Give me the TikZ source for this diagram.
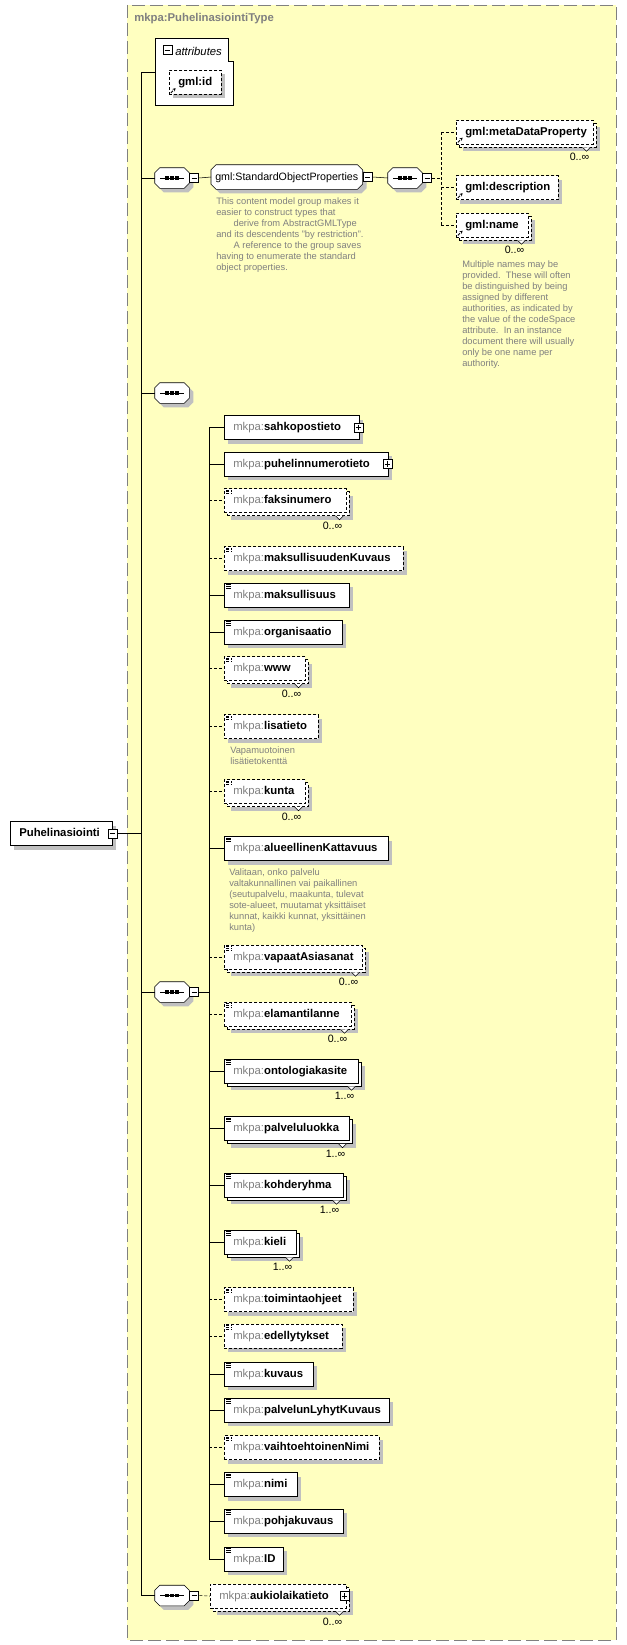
\documentclass[tikz,border=0pt]{standalone}
\usepackage{fontspec}
\setmainfont{Liberation Sans}
\usetikzlibrary{shadows,arrows.meta}

\definecolor{xsdyellow}{RGB}{255,255,192}
\definecolor{shadowgray}{RGB}{192,192,192}
\definecolor{pfxgray}{RGB}{128,128,128}
\definecolor{notegray}{RGB}{128,128,128}

\pgfdeclarelayer{back}
\pgfdeclarelayer{background}
\pgfsetlayers{back,background,main}

\newcommand{\mk}{{\mdseries\color{pfxgray}mkpa:}}
\newcommand{\lbox}[2]{\makebox[#1][l]{#2}}
% Kerroin ja lovi monikertaisille elementeille
\newcommand{\card}[2]{%
  \draw[fill=white] ([shift={(-11,3)}]#1.south east) -- ++(4,4) -- ++(4,-4);
  \node[card] (#1-card) at ([shift={(-4,9)}]#1.south east) {#2};}
% Viistetty reunus solmun ympäri (#2 = siirto, #3 = tyyli)
\newcommand{\chamfer}[3]{%
  \path[#3] ([shift={(5+#2,#2)}]#1.north west) -- ([shift={(-5+#2,#2)}]#1.north east)
    -- ([shift={(#2,5+#2)}]#1.north east) -- ([shift={(#2,-5+#2)}]#1.south east)
    -- ([shift={(-5+#2,#2)}]#1.south east) -- ([shift={(5+#2,#2)}]#1.south west)
    -- ([shift={(#2,-5+#2)}]#1.south west) -- ([shift={(#2,5+#2)}]#1.north west) -- cycle;}
\newcommand{\octo}[1]{%
  \begin{pgfonlayer}{background}
    \chamfer{#1}{4}{fill=shadowgray}
    \chamfer{#1}{0}{draw, fill=white}
  \end{pgfonlayer}}
\newcommand{\seqdots}[1]{%
  \octo{#1}
  \draw ([xshift=-9pt]#1.center) -- ([xshift=9pt]#1.center);
  \foreach \dx in {-3.9pt,0pt,3.9pt}
    \fill ([xshift=\dx-1.35pt, yshift=-1.35pt]#1.center) rectangle ([xshift=\dx+1.35pt, yshift=1.35pt]#1.center);}

\tikzset{
  shd/.style={general shadow={fill=shadowgray, draw=none, shadow xshift=3pt, shadow yshift=-3pt}},
  multi/.style={general shadow={fill=shadowgray, draw=none, shadow xshift=5.25pt, shadow yshift=-5.25pt},
                general shadow={fill=white, draw=black, shadow xshift=2.25pt, shadow yshift=-2.25pt}},
  opt/.style={dash pattern=on 2.25pt off 1.5pt},
  elem/.style={draw, fill=white, anchor=west, inner xsep=6.75pt, inner ysep=0pt, minimum height=18pt,
               text height=6.5pt, text depth=1.8pt, font=\fontsize{8.5}{10}\selectfont\bfseries},
  simple/.style={path picture={\foreach \dy in {1.1pt,2.4pt,3.7pt}
      \draw[line width=0.6pt] ([shift={(1.4pt,-\dy)}]path picture bounding box.north west) -- ++(4pt,0pt);}},
  ref/.style={path picture={\draw[line width=0.75pt, -{Stealth[length=2.2pt,width=2.6pt]}]
      ([shift={(1.2pt,1.2pt)}]path picture bounding box.south west) -- ++(3.5pt,3.5pt);}},
  seq/.style={rectangle, minimum width=25.5pt, minimum height=15pt, inner sep=0pt},
  group/.style={rectangle, anchor=west, inner xsep=3pt, inner ysep=0pt, minimum height=18pt,
                text height=6.5pt, text depth=1.8pt, font=\fontsize{8}{10}\selectfont},
  pm/.style={draw, fill=white, minimum size=6.75pt, inner sep=0pt, line width=0.75pt},
  minus/.style={pm, path picture={\draw ([xshift=1.3pt]path picture bounding box.west) -- ([xshift=-1.3pt]path picture bounding box.east);}},
  plus/.style={pm, path picture={\draw ([xshift=1.3pt]path picture bounding box.west) -- ([xshift=-1.3pt]path picture bounding box.east);
      \draw ([yshift=-1.3pt]path picture bounding box.north) -- ([yshift=1.3pt]path picture bounding box.south);}},
  card/.style={font=\fontsize{8}{9}\selectfont, inner sep=0pt, anchor=north east},
  note/.style={font=\fontsize{7}{8.25}\selectfont, text=notegray, align=left, inner sep=0pt, anchor=north west},
}

\begin{document}
\begin{tikzpicture}[x=0.75pt, y=-0.75pt, line width=0.75pt]
	\begin{pgfonlayer}{back}
		\useasboundingbox[fill=white] (0,0) rectangle (626,1645); % Rand wie im Original
		% Kompleksityyppi
		\draw[fill=xsdyellow, draw=gray, dash pattern=on 9.75pt off 3.75pt] (127,5) rectangle (616,1640);
	\end{pgfonlayer}
	\node[anchor=west, text=pfxgray, inner sep=0pt, font=\fontsize{8.5}{10}\selectfont\bfseries] (typename) at (134,19) {mkpa:PuhelinasiointiType};
	
	% attributes
	\draw[fill=white] (155,38) -- (228,38) -- (228,61) -- (233,61) -- (233,105) -- (155,105) -- cycle;
	\node[minus] (attr-pm) at (167.5,50.5) {};
	\node[anchor=west, inner sep=0pt, font=\fontsize{8.5}{10}\selectfont\itshape] (attr) at (175,51) {attributes};
	\node[elem, opt, shd, ref] (gmlid) at (169,82.5) {\lbox{25.5pt}{gml:id}};
	\coordinate (attrin) at (155,72);
	\coordinate (trunk) at (141,72);
	
	% Juurielementti
	\node[elem, shd] (root) at (10,833.5) {\lbox{63pt}{Puhelinasiointi}};
	\node[minus] (root-pm) at (root.east) {};
	
	% Sekvenssit
	\node[seq] (seqA) at (172,178) {};
	\seqdots{seqA}
	\node[minus, anchor=west] (seqA-pm) at (seqA.east) {};
	\node[seq] (seqE) at (172,393) {};
	\seqdots{seqE}
	\node[seq] (seqC) at (172,992) {};
	\seqdots{seqC}
	\node[minus, anchor=west] (seqC-pm) at (seqC.east) {};
	\node[seq] (seqD) at (172,1595.5) {};
	\seqdots{seqD}
	\node[minus, anchor=west] (seqD-pm) at (seqD.east) {};
	
	\draw (attrin) -- (trunk) -- (trunk |- seqD.west);
	\draw (root-pm.east) -- (root-pm.east -| trunk);
	\foreach \s in {seqA,seqE,seqC,seqD}
		\draw (trunk |- \s.west) -- (\s.west);
	
	% gml:StandardObjectProperties
	\node[group] (sop) at (211,177) {\lbox{107.25pt}{gml:StandardObjectProperties}};
	\octo{sop}
	\node[minus, anchor=west] (sop-pm) at (sop.east) {};
	\node[seq] (seqB) at (405,178) {};
	\seqdots{seqB}
	\node[minus, anchor=west] (seqB-pm) at (seqB.east) {};
	\coordinate (colB) at (441,178);
	\draw (seqA-pm.east) -- (sop.west);
	\draw (sop-pm.east) -- (seqB.west);
	
	\node[elem, opt, multi, ref] (mdp) at (456,132) {\lbox{89.25pt}{gml:metaDataProperty}};
	\card{mdp}{0..∞}
	\node[elem, opt, shd, ref] (gdesc) at (456,187.5) {\lbox{63pt}{gml:description}};
	\node[elem, opt, multi, ref] (gname) at (456,225) {\lbox{40.5pt}{gml:name}};
	\card{gname}{0..∞}
	
	\draw[opt] (seqB-pm.east) -- (colB);
	\draw[opt] (colB |- mdp.west) -- (colB |- gname.west);
	\foreach \g in {mdp,gdesc,gname}
		\draw[opt] (colB |- \g.west) -- (\g.west);
	
	\node[note] (sop-note) at (216,197) {This content model group makes it\\easier to construct types that\\\hspace*{13pt}derive from AbstractGMLType\\and its descendents "by restriction".\\\hspace*{13pt}A reference to the group saves\\having to enumerate the standard\\object properties.};
	\node[note] (gname-note) at (462,260) {Multiple names may be\\provided.\ \ These will often\\be distinguished by being\\assigned by different\\authorities, as indicated by\\the value of the codeSpace\\attribute.\ \ In an instance\\document there will usually\\only be one name per\\authority.};
	
	% Elementit
	\coordinate (colC) at (209,992);
	\node[elem, shd] (sahko) at (224,427.5) {\lbox{87.75pt}{\mk sahkopostieto}};
	\node[plus] (sahko-pm) at ([xshift=-0.75pt]sahko.east) {};
	\node[elem, shd] (puhelin) at (224,464) {\lbox{109.5pt}{\mk puhelinnumerotieto}};
	\node[plus] (puhelin-pm) at ([xshift=-0.75pt]puhelin.east) {};
	\node[elem, opt, multi, simple] (faksi) at (224,500.5) {\lbox{78pt}{\mk faksinumero}};
	\card{faksi}{0..∞}
	\node[elem, opt, shd, simple] (makskuv) at (224,558.5) {\lbox{120.75pt}{\mk maksullisuudenKuvaus}};
	\node[elem, shd, simple] (maks) at (224,595) {\lbox{80.25pt}{\mk maksullisuus}};
	\node[elem, shd, simple] (org) at (224,632) {\lbox{75pt}{\mk organisaatio}};
	\node[elem, opt, multi, simple] (www) at (224,668.5) {\lbox{47.25pt}{\mk www}};
	\card{www}{0..∞}
	\node[elem, opt, shd, simple] (lisa) at (224,726.5) {\lbox{57pt}{\mk lisatieto}};
	\node[note] (lisa-note) at (230,746) {Vapamuotoinen\\lisätietokenttä};
	\node[elem, opt, multi, simple] (kunta) at (224,791.5) {\lbox{47.25pt}{\mk kunta}};
	\card{kunta}{0..∞}
	\node[elem, shd, simple] (alue) at (224,848.5) {\lbox{109.5pt}{\mk alueellinenKattavuus}};
	\node[note] (alue-note) at (229,868) {Valitaan, onko palvelu\\valtakunnallinen vai paikallinen\\(seutupalvelu, maakunta, tulevat\\sote-alueet, muutamat yksittäiset\\kunnat, kaikki kunnat, yksittäinen\\kunta)};
	\node[elem, opt, multi, simple] (vapaat) at (224,957) {\lbox{90pt}{\mk vapaatAsiasanat}};
	\card{vapaat}{0..∞}
	\node[elem, opt, multi, simple] (elaman) at (224,1014) {\lbox{81.75pt}{\mk elamantilanne}};
	\card{elaman}{0..∞}
	\node[elem, multi, simple] (onto) at (224,1071) {\lbox{87pt}{\mk ontologiakasite}};
	\card{onto}{1..∞}
	\node[elem, multi, simple] (palv) at (224,1128.5) {\lbox{80.25pt}{\mk palveluluokka}};
	\card{palv}{1..∞}
	\node[elem, multi, simple] (kohde) at (224,1185) {\lbox{75.75pt}{\mk kohderyhma}};
	\card{kohde}{1..∞}
	\node[elem, multi, simple] (kieli) at (224,1242) {\lbox{40.5pt}{\mk kieli}};
	\card{kieli}{1..∞}
	\node[elem, opt, shd, simple] (toim) at (224,1299.5) {\lbox{83.25pt}{\mk toimintaohjeet}};
	\node[elem, opt, shd, simple] (edel) at (224,1336) {\lbox{75pt}{\mk edellytykset}};
	\node[elem, shd, simple] (kuv) at (224,1374) {\lbox{53.25pt}{\mk kuvaus}};
	\node[elem, shd, simple] (lyhyt) at (224,1410) {\lbox{110.25pt}{\mk palvelunLyhytKuvaus}};
	\node[elem, opt, shd, simple] (vaiht) at (224,1447.5) {\lbox{102.75pt}{\mk vaihtoehtoinenNimi}};
	\node[elem, shd, simple] (nimi) at (224,1484.5) {\lbox{41.25pt}{\mk nimi}};
	\node[elem, shd, simple] (pohja) at (224,1521) {\lbox{75.75pt}{\mk pohjakuvaus}};
	\node[elem, shd, simple] (id) at (224,1559) {\lbox{30.75pt}{\mk ID}};
	
	\draw (seqC-pm.east) -- (colC);
	\draw (colC |- sahko.west) -- (colC |- id.west);
	\foreach \e in {sahko,puhelin,maks,org,alue,onto,palv,kohde,kieli,kuv,lyhyt,nimi,pohja,id}
		\draw (colC |- \e.west) -- (\e.west);
	\foreach \e in {faksi,makskuv,www,lisa,kunta,vapaat,elaman,toim,edel,vaiht}
		\draw[opt] (colC |- \e.west) -- (\e.west);
	
	% aukiolaikatieto
	\node[elem, opt, multi] (aukio) at (210,1596) {\lbox{88.5pt}{\mk aukiolaikatieto}};
	\node[plus] (aukio-pm) at ([xshift=-1.5pt]aukio.east) {};
	\card{aukio}{0..∞}
	\draw[opt] (seqD-pm.east) -- (aukio.west);
\end{tikzpicture}
\end{document}
